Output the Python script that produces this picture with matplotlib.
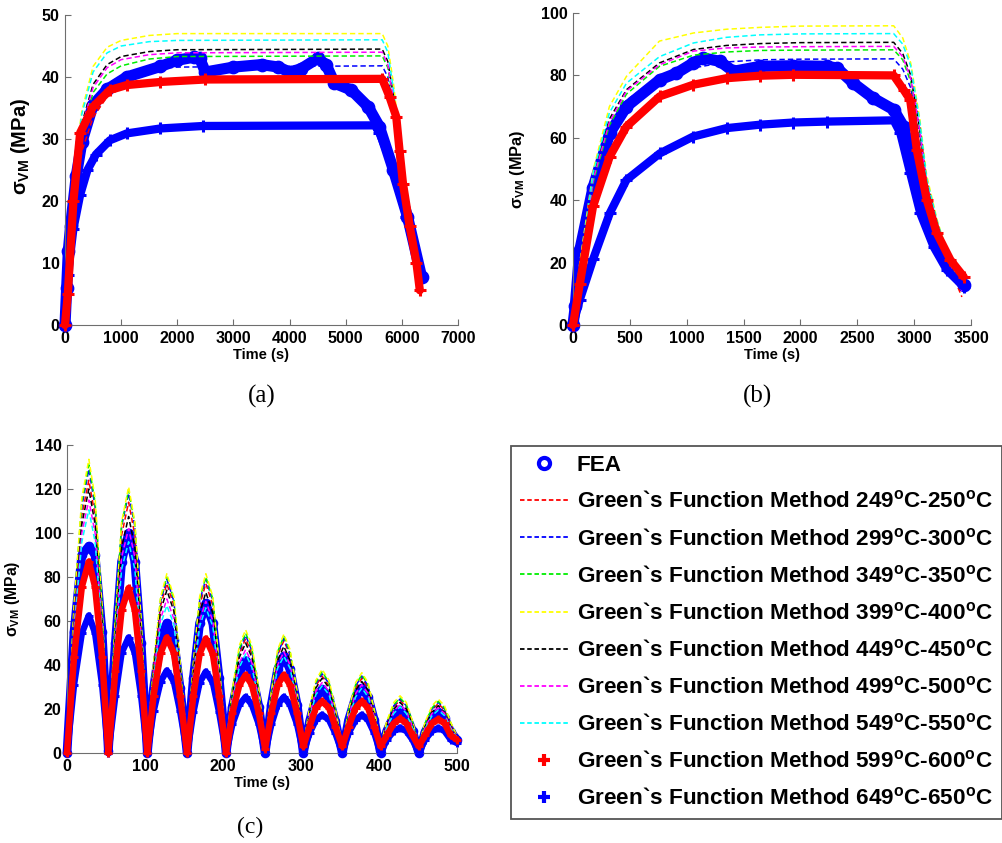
import matplotlib
matplotlib.use("Agg")
import matplotlib.pyplot as plt
from matplotlib.lines import Line2D

plt.rcParams['font.family'] = ['Liberation Sans', 'DejaVu Sans']
plt.rcParams['mathtext.fontset'] = 'custom'
plt.rcParams['mathtext.rm'] = 'Liberation Sans'
plt.rcParams['mathtext.bf'] = 'Liberation Sans:bold'
plt.rcParams['mathtext.it'] = 'Liberation Sans:italic'

# ---------------- data ----------------
temps = ["249", "299", "349", "399", "449", "499", "549", "599", "649"]
dash_colors = ['#ff0000', '#0000ff', '#00ee00', '#ffff00', '#000000', '#ff00ff', '#00ffff']

# (a) long hold, 0-6350 s
t_a = [0, 100, 200, 300, 500, 750, 1000, 1500, 2000, 5650, 5750, 5850, 5950, 6100, 6330]
dash_a = [
    [0, 13, 22, 28, 33.5, 36.8, 38.2, 39.2, 39.6, 39.8, 38.5, 34, 28, 17, 5],        # 249
    [0, 14, 24, 30, 35.5, 38.8, 40.2, 41.2, 41.6, 41.8, 40, 35, 29, 17.5, 6],        # 299
    [0, 15, 25, 31, 37.5, 40.5, 41.8, 42.9, 43.3, 43.4, 41.5, 36, 29.5, 18, 6],      # 349
    [0, 17, 28, 34.5, 41.7, 44.8, 45.9, 46.7, 47, 47, 45, 39, 31, 19, 6.5],          # 399
    [0, 16, 26.5, 32.5, 38.8, 42, 43.3, 44.1, 44.4, 44.5, 42.5, 37, 30, 18.5, 6],    # 449
    [0, 15.5, 26, 32, 38.3, 41.5, 42.8, 43.6, 43.9, 44.0, 42, 36.5, 30, 18, 6],      # 499
    [0, 16.5, 27.5, 34, 40.8, 43.9, 45, 45.7, 45.9, 46, 44, 38, 30.5, 18.5, 6],      # 549
]
t_fea_a = [0, 30, 60, 100, 200, 300, 500, 750, 1100, 1700, 2000, 2300, 2400, 2500, 3000,
           3500, 3800, 4000, 4200, 4500, 4650, 4800, 5100, 5400, 5600, 5850, 6100, 6350]
fea_a = [0, 6, 12, 16, 24, 29.5, 35.5, 38, 40, 41.7, 42.7, 43.2, 43, 40.8, 41.6,
         42, 41.6, 40.8, 41.3, 43, 42, 39, 37.9, 35.2, 32, 25, 17.5, 7.8]
t_red_a = [0, 50, 150, 270, 500, 800, 1100, 1700, 2500, 5650, 5780, 5900, 5960, 6020, 6140, 6260, 6320]
red_a = [0, 5, 20, 31, 35.2, 37.9, 38.7, 39.2, 39.6, 39.7, 36.8, 33.6, 28, 22.8, 15.9, 10, 5.6]
t_blue_a = [0, 50, 150, 270, 400, 550, 800, 1100, 1700, 2460, 5520, 5600, 5840, 6080, 6350]
blue_a = [0, 8, 15.5, 21, 25, 27.5, 29.8, 30.9, 31.7, 32.1, 32.2, 31, 25.5, 17.5, 7.8]

# (b) shorter hold, 0-3435 s
t_b = [0, 60, 180, 320, 470, 760, 1060, 1350, 1650, 2000, 2820, 2900, 2970, 3050, 3110, 3200, 3300, 3420]
dash_b = [
    [0, 13, 40, 56, 65, 73.5, 77, 79, 79.7, 80, 80, 76, 70, 56, 42, 30, 19.5, 9],
    [0, 15, 44, 61, 72, 79.7, 82.4, 84.3, 85, 85.2, 85.3, 82, 76, 60, 44, 31, 20, 11],
    [0, 16, 46, 64, 74, 82.9, 86.5, 87.5, 88, 88.1, 88.2, 85, 78, 62, 45, 32, 21, 11.5],
    [0, 20, 50, 70, 79.7, 91, 93.6, 94.8, 95.4, 95.8, 95.9, 92, 84, 66, 48, 34, 22, 12],
    [0, 17, 48, 66, 75.4, 84, 88.3, 89.6, 90.2, 90.5, 90.6, 87, 80, 63, 46, 33, 21.5, 11.5],
    [0, 16.5, 47, 65, 75, 83.4, 87.8, 88.8, 89.1, 89.2, 89.3, 86, 79, 62.5, 45.5, 32.5, 21, 11],
    [0, 18, 49, 68, 77.5, 86, 90.4, 92.2, 93, 93.3, 93.4, 90, 83, 65, 47, 33.5, 22, 12],
]
t_fea_b = [0, 20, 60, 176, 323, 470, 763, 910, 1057, 1145, 1292, 1410, 1644, 1938, 2232,
           2320, 2466, 2640, 2820, 2907, 2965, 3054, 3171, 3288, 3435]
fea_b = [0, 6, 24, 44, 61.5, 70, 78.6, 80.7, 84, 85.6, 84.5, 81.3, 82.9, 83.1, 82.9,
         82.4, 77.5, 72.7, 69, 63.6, 55, 42.2, 29.4, 19.8, 12.8]
t_red_b = [0, 59, 176, 323, 470, 763, 1057, 1350, 1644, 1938, 2820, 2907, 2965, 3024, 3112, 3200, 3318, 3435]
red_b = [0, 13, 38, 54, 63.6, 73.3, 77, 79.1, 79.9, 80.2, 80, 75.4, 72.2, 56, 40, 29.4, 20.9, 15.5]
t_blue_b = [0, 59, 176, 323, 470, 763, 1057, 1350, 1644, 1938, 2232, 2820, 2878, 2965, 3054, 3171, 3288, 3435]
blue_b = [0, 8, 21, 35.8, 46.5, 55, 60.4, 63.1, 64.2, 64.9, 65.2, 65.6, 61.5, 48.7, 35.8, 25.1, 17.6, 12.3]

# (c) cyclic load, 0-500 s (valley, rise, peak, fall for each of the 10 cycles)
t_c = [0, 9, 19, 28, 36, 45, 53,
       62, 70, 79, 87, 95, 103,
       111, 120, 128, 137, 145, 154,
       162, 170, 178, 187, 195, 204,
       212, 221, 229, 237, 246, 254,
       262, 270, 278, 286, 295, 303,
       311, 319, 327, 336, 344, 353,
       361, 370, 378, 386, 394, 402,
       410, 419, 427, 435, 443, 451,
       459, 468, 476, 484, 492, 500]
dash_c = [
    [0, 62, 108, 124, 108, 62, 2, 57, 99, 114, 99, 57, 3, 39, 67, 77, 67, 39, 3,
     39, 67, 77, 67, 39, 3, 27, 45, 52, 45, 27, 3, 26.5, 44.5, 51, 44.5, 26.5, 3,
     18.5, 30.5, 35, 30.5, 18.5, 3, 18, 29.5, 34, 29.5, 18, 3, 13.5, 21, 24, 21, 13.5, 3,
     12.5, 19.5, 22.5, 19.5, 12.5, 7],                                               # 249
    [0, 65, 112, 129, 112, 65, 2, 59, 103, 118, 103, 59, 3, 40, 69, 79, 69, 40, 3,
     40, 69, 79, 69, 40, 3, 27.5, 46.5, 53.5, 46.5, 27.5, 3, 27, 45, 52, 45, 27, 3,
     19, 31.5, 36, 31.5, 19, 3, 18.5, 30.5, 35, 30.5, 18.5, 3, 13.5, 21.5, 24.5, 21.5, 13.5, 3,
     13, 20, 23, 20, 13, 7],                                                         # 299
    [0, 66, 114, 131, 114, 66, 2, 60, 104, 119.5, 104, 60, 3, 40, 70, 80, 70, 40, 3,
     40, 70, 80, 70, 40, 3, 28, 47.5, 54.5, 47.5, 28, 3, 27.5, 46, 53, 46, 27.5, 3,
     19.5, 32, 37, 32, 19.5, 3, 19, 31, 35.5, 31, 19, 3, 14, 22, 25, 22, 14, 3,
     13.5, 20.5, 23.5, 20.5, 13.5, 7.5],                                             # 349
    [0, 67, 116, 133.5, 116, 67, 2, 61, 105, 121, 105, 61, 3, 41, 71, 81.5, 71, 41, 3,
     41, 71, 81.5, 71, 41, 3, 29, 49, 56, 49, 29, 3, 28, 47, 54, 47, 28, 3,
     20.5, 33, 38, 33, 20.5, 3, 19.5, 32, 36.5, 32, 19.5, 3, 14.5, 23, 26, 23, 14.5, 3,
     14, 21.5, 24.5, 21.5, 14, 7.5],                                                 # 399
    [0, 60, 104, 120, 104, 60, 2, 54, 93.5, 107.5, 93.5, 54, 3, 37.5, 64.5, 74, 64.5, 37.5, 3,
     37, 63.5, 73, 63.5, 37, 3, 26, 43.5, 50, 43.5, 26, 3, 25, 42, 48.5, 42, 25, 3,
     18, 29.5, 34, 29.5, 18, 3, 17, 28.5, 32.5, 28.5, 17, 3, 12.5, 20, 23, 20, 12.5, 3,
     12, 18.5, 21.5, 18.5, 12, 7],                                                   # 449
    [0, 57.5, 100, 115, 100, 57.5, 2, 51, 89, 102, 89, 51, 3, 35, 61, 70, 61, 35, 3,
     35, 60, 69, 60, 35, 3, 24.5, 41, 47, 41, 24.5, 3, 24, 40, 46, 40, 24, 3,
     17, 28, 32, 28, 17, 3, 16.5, 27, 31, 27, 16.5, 3, 12, 19, 22, 19, 12, 3,
     11.5, 18, 20.5, 18, 11.5, 7],                                                   # 499
    [0, 55, 96, 110.5, 96, 55, 2, 48, 83.5, 96, 83.5, 48, 3, 34, 58.5, 67, 58.5, 34, 3,
     33.5, 57.5, 66, 57.5, 33.5, 3, 23.5, 39, 45, 39, 23.5, 3, 23, 38.5, 44, 38.5, 23, 3,
     16, 26.5, 30.5, 26.5, 16, 3, 15.5, 25.5, 29.5, 25.5, 15.5, 3, 11.5, 18, 21, 18, 11.5, 3,
     11, 17, 19.5, 17, 11, 7],                                                       # 549
]
fea_c = [0, 55, 90, 94, 90, 55, 1, 50, 87, 100, 87, 50, 0, 29.5, 51.5, 59, 51.5, 29.5, 0,
         34, 59, 68, 59, 34, 0, 21, 36.5, 42, 36.5, 21, 0, 22, 38, 44, 38, 22, 0,
         14.5, 25, 29, 25, 14.5, 0, 15, 25.5, 29.5, 25.5, 15, 0, 10, 17, 19.5, 17, 10, 0,
         9.5, 16, 18.5, 16, 9.5, 6]
red_c = [0, 43.5, 75.5, 87, 75.5, 43.5, 0, 37.5, 65, 75, 65, 37.5, 0, 26, 45.5, 52.5, 45.5, 26, 0,
         26, 45, 52, 45, 26, 0, 18, 31, 35.5, 31, 18, 2, 18, 31, 35.5, 31, 18, 3,
         12, 20.5, 23.5, 20.5, 12, 3, 12, 20.5, 23.5, 20.5, 12, 3, 8, 13.5, 15.7, 13.5, 8, 3,
         8, 13.5, 15.4, 13.5, 8, 6]
blue_c = [0, 31, 54.5, 62.5, 54.5, 31, 0, 26, 45.5, 52.5, 45.5, 26, 0, 19, 32.5, 37.5, 32.5, 19, 0,
          18.5, 32, 37, 32, 18.5, 0, 13, 22, 25.5, 22, 13, 0, 13, 22, 25.5, 22, 13, 0,
          9, 15, 17.4, 15, 9, 0, 9, 15, 17.4, 15, 9, 0, 6, 10, 11.5, 10, 6, 0,
          6, 10, 11.4, 10, 6, 4.5]

AX_GRAY = '#6e6e6e'
DASH = (0, (3.5, 2))


def style_axes(ax, xmax, xstep, ymax, ystep, ylab_size, ylab_xy):
    ax.set_xlim(0, xmax)
    ax.set_ylim(0, ymax)
    ax.set_xticks(range(0, xmax + 1, xstep))
    ax.set_yticks(range(0, ymax + 1, ystep))
    ax.spines['top'].set_visible(False)
    ax.spines['right'].set_visible(False)
    for s in ['left', 'bottom']:
        ax.spines[s].set_color(AX_GRAY)
    ax.tick_params(direction='in', length=4, color=AX_GRAY, labelsize=11.5, pad=4)
    for lab in ax.get_xticklabels() + ax.get_yticklabels():
        lab.set_fontweight('bold')
    ax.set_xlabel('Time (s)', fontsize=10.5, fontweight='bold', labelpad=2)
    ax.set_ylabel(r'σ$_{\mathbf{VM}}$ (MPa)', fontsize=ylab_size, fontweight='bold')
    ax.yaxis.set_label_coords(*ylab_xy)


def draw_panel(ax, t_f, fea, t_d, dashes, t_r, red, t_bl, blue, w, ms):
    # FEA first, then the dashed Green's function curves, then the two marker series
    ax.plot(t_f, fea, color='#0000ff', lw=w * 1.15, marker='o', ms=ms * 1.2, mew=1.5,
            solid_capstyle='round', clip_on=False, zorder=2)
    for vals, c in zip(dashes, dash_colors):
        ax.plot(t_d, vals, color=c, lw=1.1, ls=DASH, clip_on=False, zorder=3)
    ax.plot(t_bl, blue, color='#0000ff', lw=w * 0.85, marker='+', ms=ms * 1.3, mew=2.2,
            solid_capstyle='round', clip_on=False, zorder=4)
    ax.plot(t_r, red, color='#ff0000', lw=w * 0.85, marker='+', ms=ms * 1.3, mew=2.2,
            solid_capstyle='round', clip_on=False, zorder=5)


fig = plt.figure(figsize=(10.03, 8.43), dpi=100)
W, H = 1003.0, 843.0

ax_a = fig.add_axes([65 / W, 1 - 325 / H, 393 / W, 310 / H])
ax_b = fig.add_axes([573 / W, 1 - 325 / H, 398 / W, 312 / H])
ax_c = fig.add_axes([67 / W, 1 - 753 / H, 390 / W, 308 / H])

draw_panel(ax_a, t_fea_a, fea_a, t_a, dash_a, t_red_a, red_a, t_blue_a, blue_a, 7, 7)
style_axes(ax_a, 7000, 1000, 50, 10, 14.5, (-0.084, 0.577))

draw_panel(ax_b, t_fea_b, fea_b, t_b, dash_b, t_red_b, red_b, t_blue_b, blue_b, 7, 7)
style_axes(ax_b, 3500, 500, 100, 20, 11.8, (-0.1156, 0.5))

draw_panel(ax_c, t_c, fea_c, t_c, dash_c, t_c, red_c, t_c, blue_c, 5.5, 4.5)
style_axes(ax_c, 500, 100, 140, 20, 11.3, (-0.115, 0.5))

# captions
for x, y, s, fs in [(262, 396, '(a)', 18), (757, 396, '(b)', 18), (250, 827, '(c)', 17)]:
    fig.text(x / W, 1 - y / H, s, ha='center', va='center', fontsize=fs, family='Liberation Serif')

# legend box
handles = [Line2D([], [], color='#0000ff', marker='o', ls='none', ms=8, mew=3, mfc='white')]
labels = ['FEA']
for c in dash_colors:
    handles.append(Line2D([], [], color=c, ls=(0, (2.5, 1.5)), lw=1.3))
for c in ['#ff0000', '#0000ff']:
    handles.append(Line2D([], [], color=c, marker='+', ls='none', ms=8, mew=3))
for tp in temps:
    labels.append("Green`s Function Method %s$^{\\mathbf{o}}$C-%d$^{\\mathbf{o}}$C" % (tp, int(tp) + 1))

leg = fig.legend(handles, labels, loc='upper left', bbox_to_anchor=(511 / W, 1 - 446 / H),
                 borderaxespad=0, prop={'weight': 'bold', 'size': 16.2},
                 handlelength=2.16, handletextpad=0.36, labelspacing=0.68, borderpad=0.4,
                 fancybox=False, framealpha=1)
leg.get_frame().set_edgecolor('#555555')
leg.get_frame().set_linewidth(1.3)

fig.savefig('out.png', dpi=100)
